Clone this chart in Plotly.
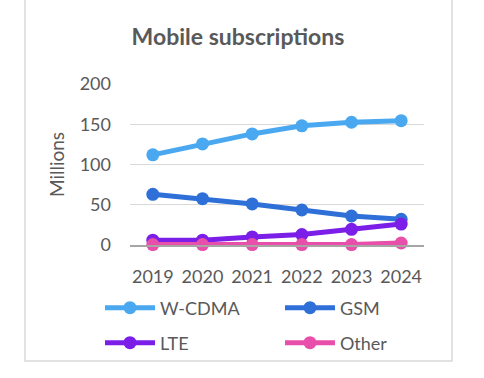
import plotly.graph_objects as go

years = ["2019", "2020", "2021", "2022", "2023", "2024"]
wcdma = [112, 125.5, 138, 148, 152.5, 154.5]
gsm = [63, 57.5, 51, 43.5, 36, 32]
lte = [6, 6, 10, 13, 19.5, 26]
other = [0.5, 0.5, 0.5, 0.5, 0.5, 2.5]

series = [
    ("W-CDMA", wcdma, "#4AA8F0", "legend"),
    ("GSM", gsm, "#2E6FD8", "legend"),
    ("LTE", lte, "#7B1FE8", "legend2"),
    ("Other", other, "#E84FAA", "legend2"),
]

W, H = 484, 378
ml, mr, mt, mb = 130, 60, 84, 133
pw, ph = W - ml - mr, H - mt - mb

fig = go.Figure()
for name, vals, col, lg in series:
    fig.add_trace(go.Scatter(
        x=years, y=vals, name=name, mode="lines+markers",
        line=dict(color=col, width=5),
        marker=dict(color=col, size=13),
        cliponaxis=False, legend=lg,
    ))

font_family = "Lato, Open Sans, sans-serif"
grey = "#595959"


def leg(ypix):
    return dict(orientation="h", x=(100 - ml) / pw, xanchor="left",
                y=-(ypix - mt - ph) / ph, yanchor="middle",
                entrywidth=115, entrywidthmode="pixels",
                itemwidth=50, tracegroupgap=0,
                font=dict(size=18, color=grey, family=font_family),
                bgcolor="rgba(0,0,0,0)")


fig.update_layout(
    width=W, height=H,
    margin=dict(l=ml, r=mr, t=mt, b=mb, autoexpand=False),
    paper_bgcolor="white", plot_bgcolor="white",
    font=dict(family=font_family, color=grey, size=18),
    title=dict(text="<b>Mobile subscriptions</b>", x=238 / W, xanchor="center",
               y=1 - 37 / H, yanchor="middle",
               font=dict(size=23, color=grey, family=font_family)),
    showlegend=True,
    legend=leg(308),
    legend2=leg(343),
    xaxis=dict(type="category", showgrid=False, showline=True,
               linecolor="#A6A6A6", linewidth=1.5, ticks="",
               tickfont=dict(size=18), ticklabelstandoff=15, zeroline=False,
               automargin=False),
    yaxis=dict(range=[0, 200], dtick=50, showgrid=True, gridcolor="#D9D9D9",
               gridwidth=1, showline=False, zeroline=False, ticks="",
               tickfont=dict(size=18), ticklabelstandoff=18, automargin=False,
               title=dict(text="Millions", font=dict(size=19), standoff=10)),
    shapes=[dict(type="rect", xref="paper", yref="paper",
                 x0=(25 - ml) / pw, x1=(452 - ml) / pw,
                 y0=-(361 - mt - ph) / ph, y1=1 + (mt + 5) / ph,
                 line=dict(color="#D9D9D9", width=1.5), layer="below")],
)

fig.write_html("out.html", config={"displayModeBar": False},
               post_script="document.body.style.margin='0';document.body.style.overflow='hidden';")
